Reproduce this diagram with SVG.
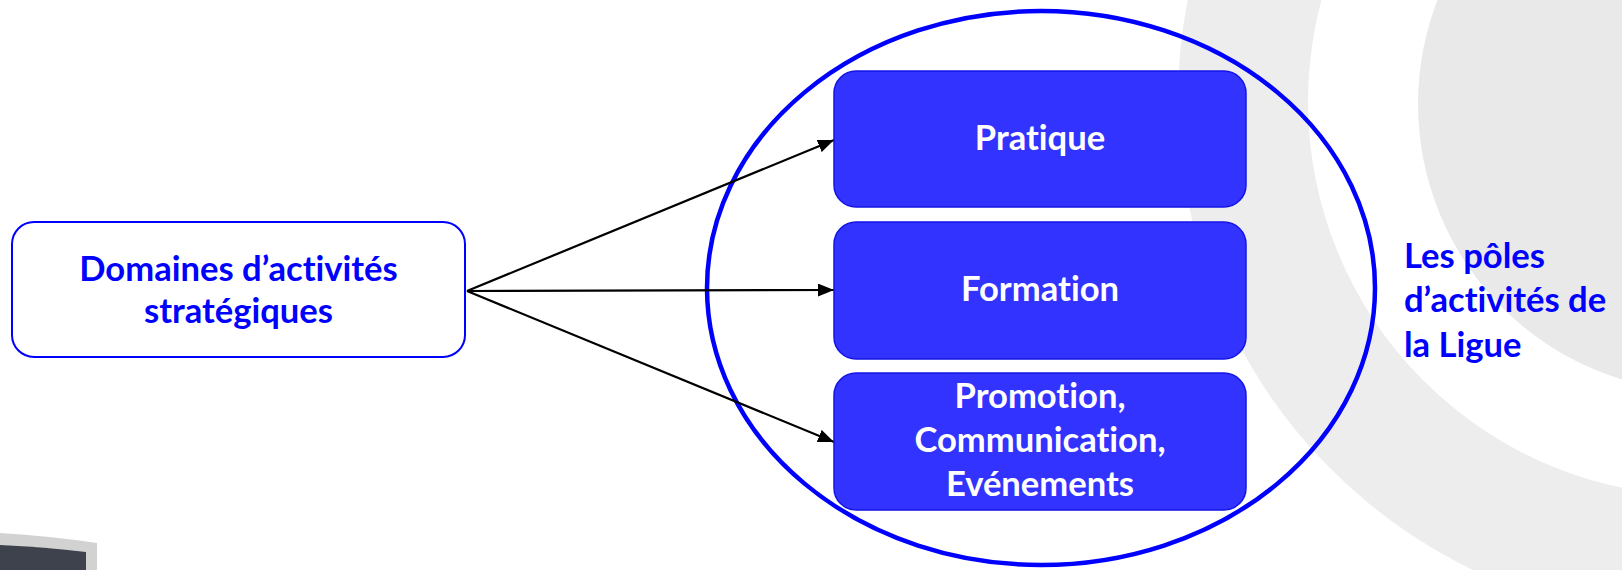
<svg xmlns="http://www.w3.org/2000/svg" width="1622" height="570" viewBox="0 0 1622 570">
  <style>
    .bold { font-family: Lato, "Liberation Sans", "DejaVu Sans", sans-serif; font-weight: bold; font-size: 34.6px; font-variant-ligatures: none; font-feature-settings: "liga" 0, "clig" 0; }
    .blueText { fill: #0000FF; }
    .whiteText { fill: #FFFFFF; }
    .pole { fill: #3333FF; stroke: #1414E6; stroke-width: 1.5; }
    .src { fill: #FFFFFF; stroke: #0000FF; stroke-width: 2; }
    .conn { stroke: #000000; stroke-width: 2.2; fill: none; marker-end: url(#arrow); }
  </style>
  <defs>
    <marker id="arrow" markerUnits="userSpaceOnUse" markerWidth="16" markerHeight="13" refX="16" refY="6.5" orient="auto">
      <path d="M0,0 L16,6.5 L0,13 z" fill="#000000"/>
    </marker>
  </defs>

  <!-- background decoration -->
  <g id="background">
    <rect x="0" y="0" width="1622" height="570" fill="#FFFFFF"/>
    <circle cx="1700" cy="100" r="522" fill="#EDEDED"/>
    <circle cx="1702" cy="102" r="394" fill="#FFFFFF"/>
    <circle cx="1706" cy="104" r="288" fill="#E9E9E9"/>
    <path d="M0,533 Q50,536 97,543 L97,570 L0,570 Z" fill="#D2D2D2"/>
    <path d="M0,545 Q45,547 86,552 L86,570 L0,570 Z" fill="#3D424C"/>
  </g>

  <!-- container ellipse -->
  <g id="poles-container">
    <ellipse cx="1041" cy="288" rx="334" ry="277" fill="none" stroke="#0000FF" stroke-width="4.5"/>
  </g>

  <!-- connectors -->
  <g id="connectors">
    <line class="conn" x1="467" y1="291" x2="834" y2="140"/>
    <line class="conn" x1="467" y1="291" x2="834" y2="290"/>
    <line class="conn" x1="467" y1="291" x2="834" y2="442"/>
  </g>

  <g id="node-domaines">
    <rect class="src" x="12" y="222" width="453" height="135" rx="22" ry="22"/>
    <text class="bold blueText" text-anchor="middle" x="238.5" y="281">Domaines d’activités</text>
    <text class="bold blueText" text-anchor="middle" x="238.5" y="323">stratégiques</text>
  </g>

  <g id="node-pratique">
    <rect class="pole" x="834" y="71" width="412" height="136" rx="22" ry="22"/>
    <text class="bold whiteText" text-anchor="middle" x="1040" y="150">Pratique</text>
  </g>

  <g id="node-formation">
    <rect class="pole" x="834" y="222" width="412" height="137" rx="22" ry="22"/>
    <text class="bold whiteText" text-anchor="middle" x="1040" y="301">Formation</text>
  </g>

  <g id="node-promotion">
    <rect class="pole" x="834" y="373" width="412" height="137" rx="22" ry="22"/>
    <text class="bold whiteText" text-anchor="middle" x="1040" y="408">Promotion,</text>
    <text class="bold whiteText" text-anchor="middle" x="1040" y="452">Communication,</text>
    <text class="bold whiteText" text-anchor="middle" x="1040" y="496">Evénements</text>
  </g>

  <g id="label-poles">
    <text class="bold blueText" x="1404" y="268">Les pôles</text>
    <text class="bold blueText" x="1404" y="312">d’activités de</text>
    <text class="bold blueText" x="1404" y="357">la Ligue</text>
  </g>
</svg>
